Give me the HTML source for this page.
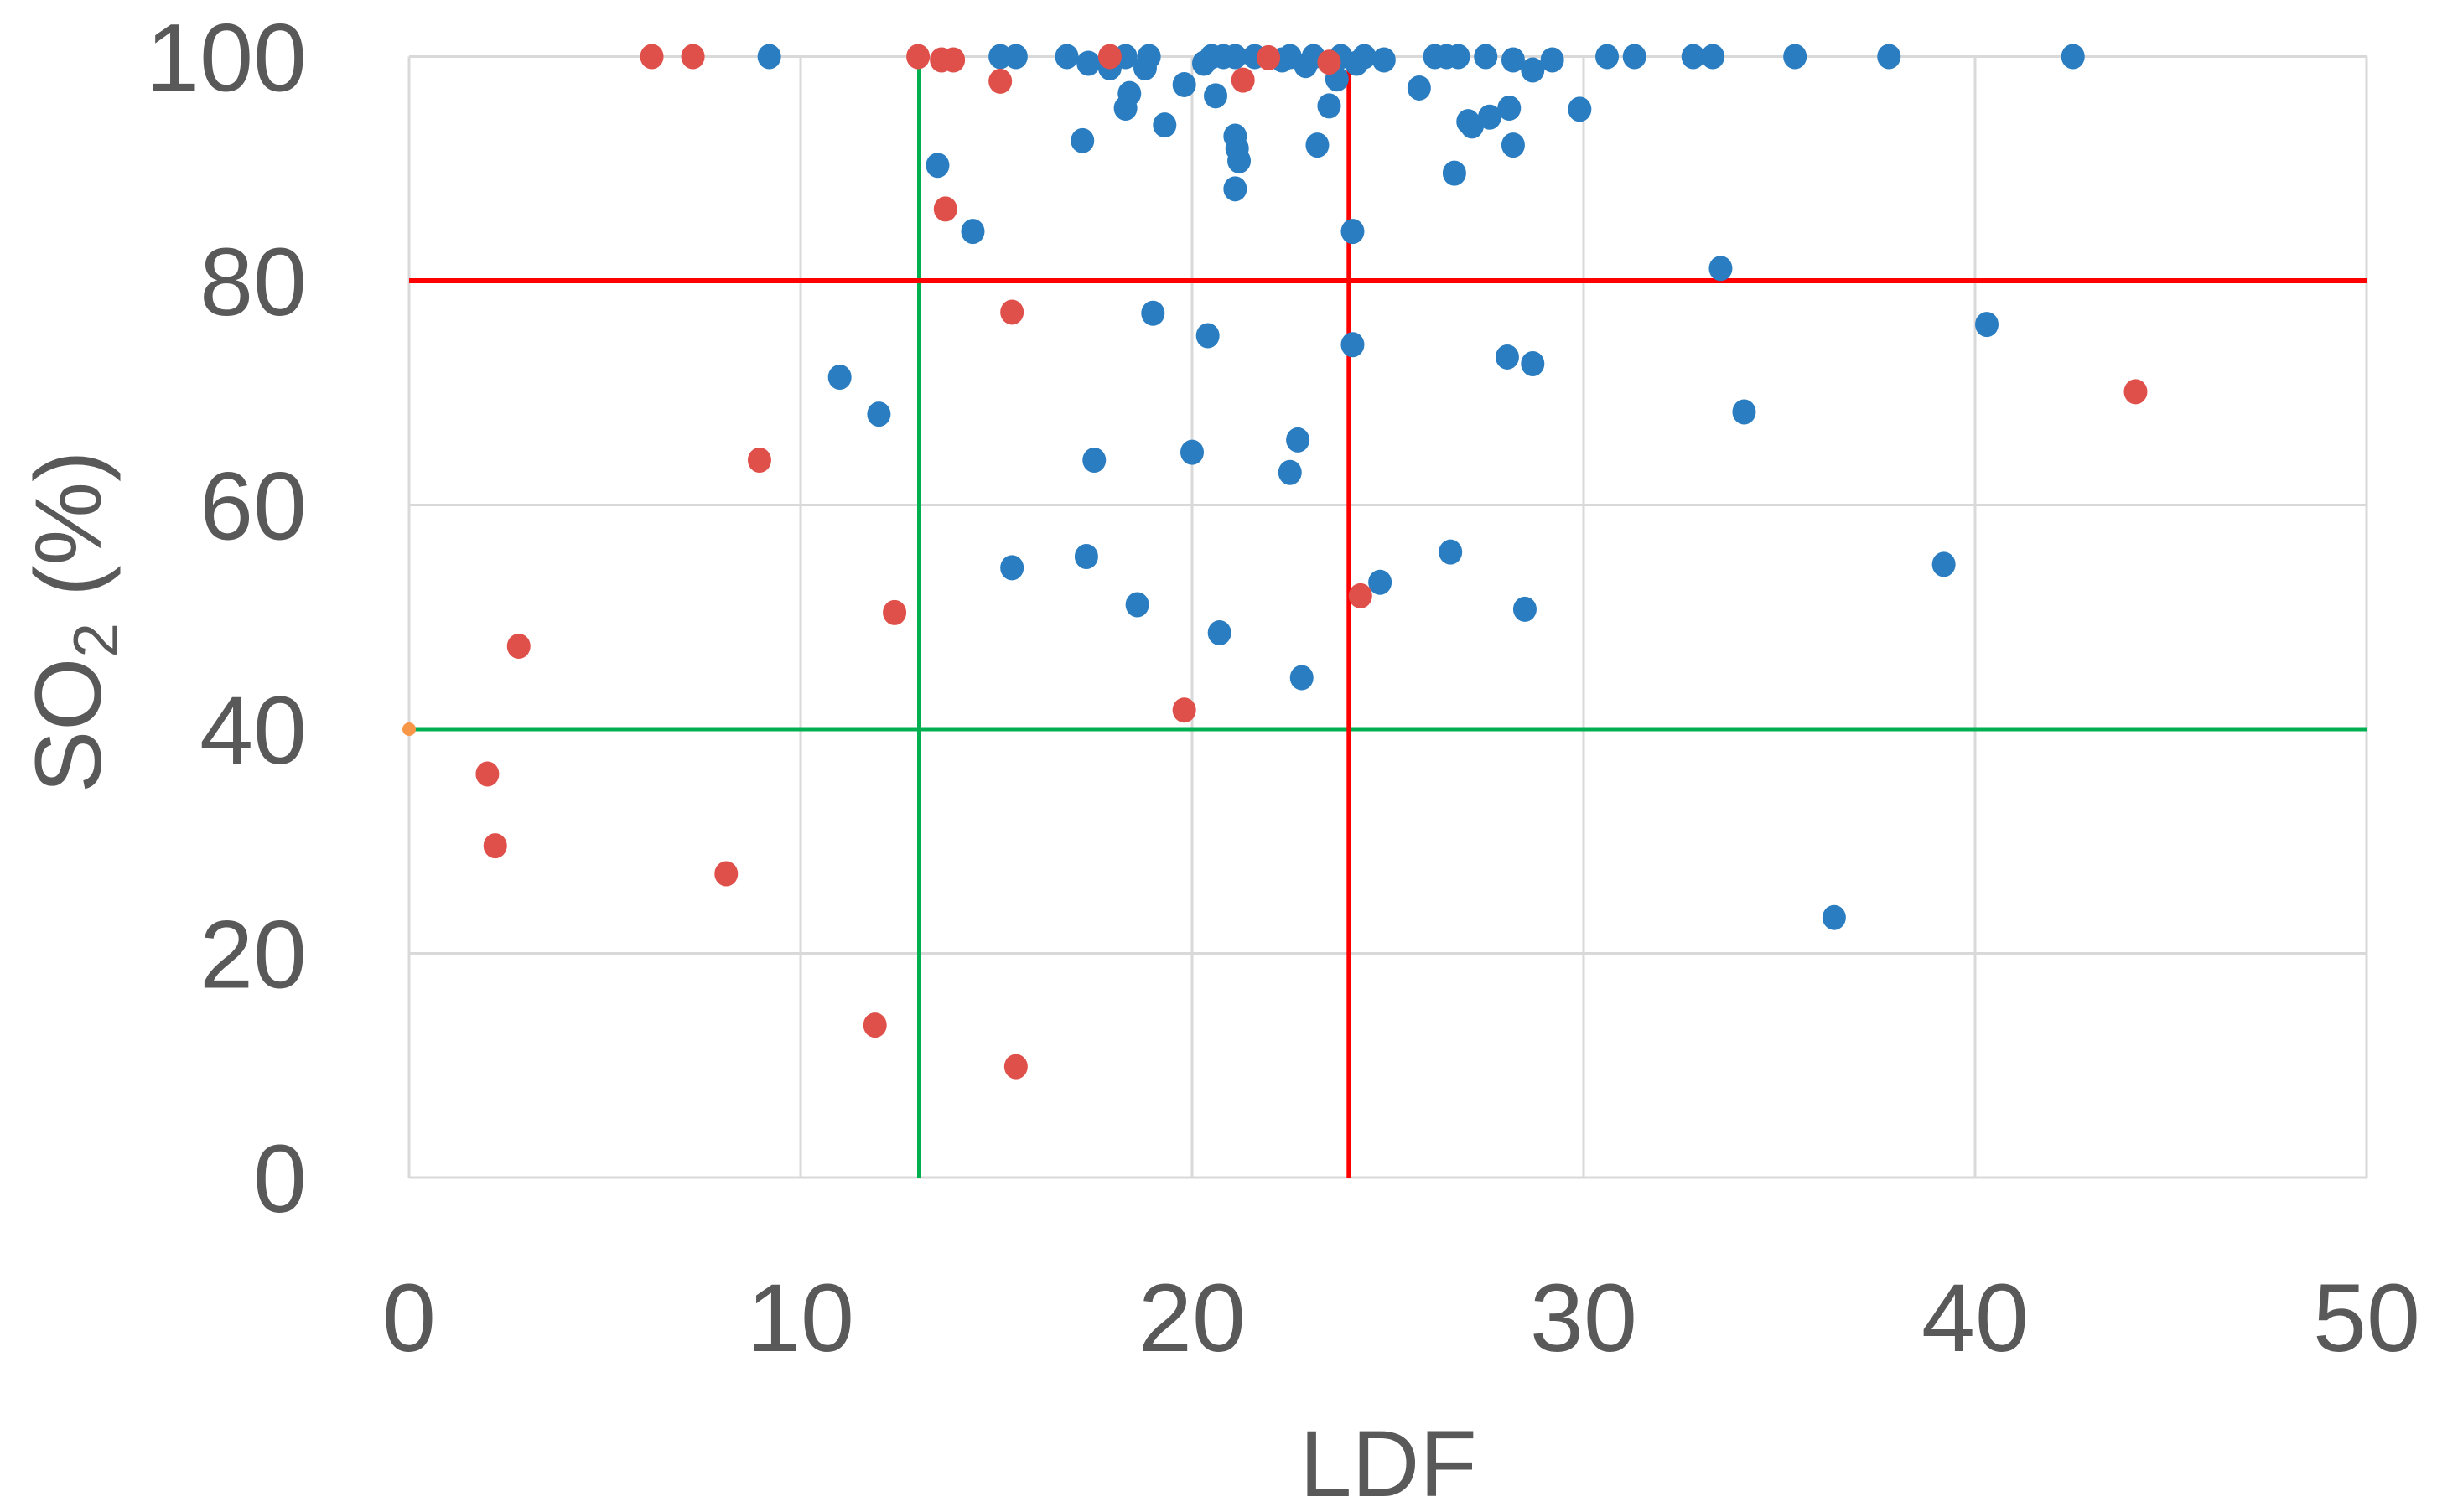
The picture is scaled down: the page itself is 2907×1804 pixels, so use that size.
<!DOCTYPE html>
<html><head><meta charset="utf-8"><style>
html,body{margin:0;padding:0;background:#fff;}
svg{display:block;}
text{font-family:"Liberation Sans",sans-serif;fill:#595959;}
</style></head><body>
<svg id="chart" width="2907" height="1804" viewBox="0 0 2907 1804">
<g id="grid"></g>
<g id="ticks"></g>
<g id="refs"></g>
<g id="pts"></g>
<text x="1656" y="1785" font-size="112" text-anchor="middle">LDF</text>
<text transform="translate(120,742) rotate(-90)" font-size="112" text-anchor="middle">SO<tspan font-size="75" dy="20">2</tspan><tspan dy="-20"> (%)</tspan></text>
</svg>
<script>
const xTicks=[0,10,20,30,40,50];
const yTicks=[0,20,40,60,80,100];
const redX=[6.2,7.25,13,13.6,13.9,15.1,13.7,15.4,8.95,2.8,12.4,19.8,24.3,2.0,2.2,8.1,11.9,15.5,17.9,21.3,21.95,23.5,44.1];
const redY=[100,100,100,99.7,99.7,97.8,86.4,77.2,64,47.4,50.4,41.7,51.9,36,29.6,27.1,13.6,9.9,100,97.9,99.9,99.5,70.1];
const blueX=[9.2,15.1,15.5,16.8,17.35,17.9,18.3,18.8,18.9,18.3,18.4,19.8,19.3,17.2,20.6,20.3,20.5,20.8,21.1,21.6,22.3,22.5,22.9,23.1,23.8,23.7,24.2,24.4,24.9,23.5,23.2,21.1,21.15,21.2,21.1,25.8,26.2,26.5,26.8,27.5,28.2,28.7,29.2,27.05,27.15,27.6,28.1,28.2,29.9,26.7,30.6,31.3,32.8,33.3,35.4,37.8,42.5,13.5,14.4,24.1,33.5,19.0,20.4,24.1,28.05,28.7,40.3,11.0,12.0,34.1,22.7,22.5,20.0,17.5,17.3,15.4,26.6,24.8,39.2,18.6,28.5,20.7,22.8,36.4];
const blueY=[100,100,100,100,99.4,99,100,99,100,95.4,96.7,97.5,93.9,92.5,96.5,99.4,100,100,100,100,99.7,100,99.2,100,100,98,99.4,100,99.7,95.6,92.1,92.9,91.8,90.7,88.2,97.2,100,100,100,100,99.7,98.8,99.7,94.2,93.8,94.6,95.4,92.1,95.3,89.6,100,100,100,100,100,100,100,90.3,84.4,84.4,81.1,77.1,75.1,74.3,73.2,72.6,76.1,71.4,68.1,68.3,65.8,62.9,64.7,64,55.4,54.4,55.8,53.1,54.7,51.1,50.7,48.6,44.6,23.2];
const greenV=13.03, redV=24, greenH=40, redH=80;
const X0=488,X1=2823,Y0=1405,Y1=67.5;
const sx=v=>X0+(v-0)/(50-0)*(X1-X0);
const sy=v=>Y0-(v-0)/(100-0)*(Y0-Y1);
const NS="http://www.w3.org/2000/svg";
function mk(tag,attrs,parent){const e=document.createElementNS(NS,tag);for(const k in attrs)e.setAttribute(k,attrs[k]);parent.appendChild(e);return e;}
const grid=document.getElementById('grid'),ticks=document.getElementById('ticks'),refs=document.getElementById('refs'),pts=document.getElementById('pts');
xTicks.forEach(t=>{
 const l=mk('line',{x1:sx(t),x2:sx(t),y1:sy(0),y2:sy(100),stroke:'#d9d9d9','stroke-width':3},grid);
 
 
 const tx=mk('text',{x:sx(t),y:1612,'font-size':115,'text-anchor':'middle'},ticks);tx.textContent=t;
 
 
});
yTicks.forEach(t=>{
 const l=mk('line',{x1:sx(0),x2:sx(50),y1:sy(t),y2:sy(t),stroke:'#d9d9d9','stroke-width':3},grid);
 
 
 const tx=mk('text',{x:366,y:sy(t)+41,'font-size':115,'text-anchor':'end'},ticks);tx.textContent=t;
 
 
});
let r;
r=mk('line',{x1:sx(greenV),x2:sx(greenV),y1:sy(100),y2:sy(0),stroke:'#00b050','stroke-width':5},refs);


r=mk('line',{x1:sx(0),x2:sx(50),y1:sy(greenH),y2:sy(greenH),stroke:'#00b050','stroke-width':5},refs);


r=mk('line',{x1:sx(redV),x2:sx(redV),y1:sy(100),y2:sy(0),stroke:'#ff0000','stroke-width':5},refs);


r=mk('line',{x1:sx(0),x2:sx(50),y1:sy(redH),y2:sy(redH),stroke:'#ff0000','stroke-width':6},refs);


blueX.forEach((x,i)=>{
 const c=mk('ellipse',{cx:sx(x),cy:sy(blueY[i]),rx:14,ry:15,fill:'#2a7dc0'},pts);
 
 
});
redX.forEach((x,i)=>{
 const c=mk('ellipse',{cx:sx(x),cy:sy(redY[i]),rx:14,ry:15,fill:'#e0504b'},pts);
 
 
});
const o=mk('circle',{cx:sx(0),cy:sy(40),r:8,fill:'#f79646'},pts);


</script>
</body></html>
